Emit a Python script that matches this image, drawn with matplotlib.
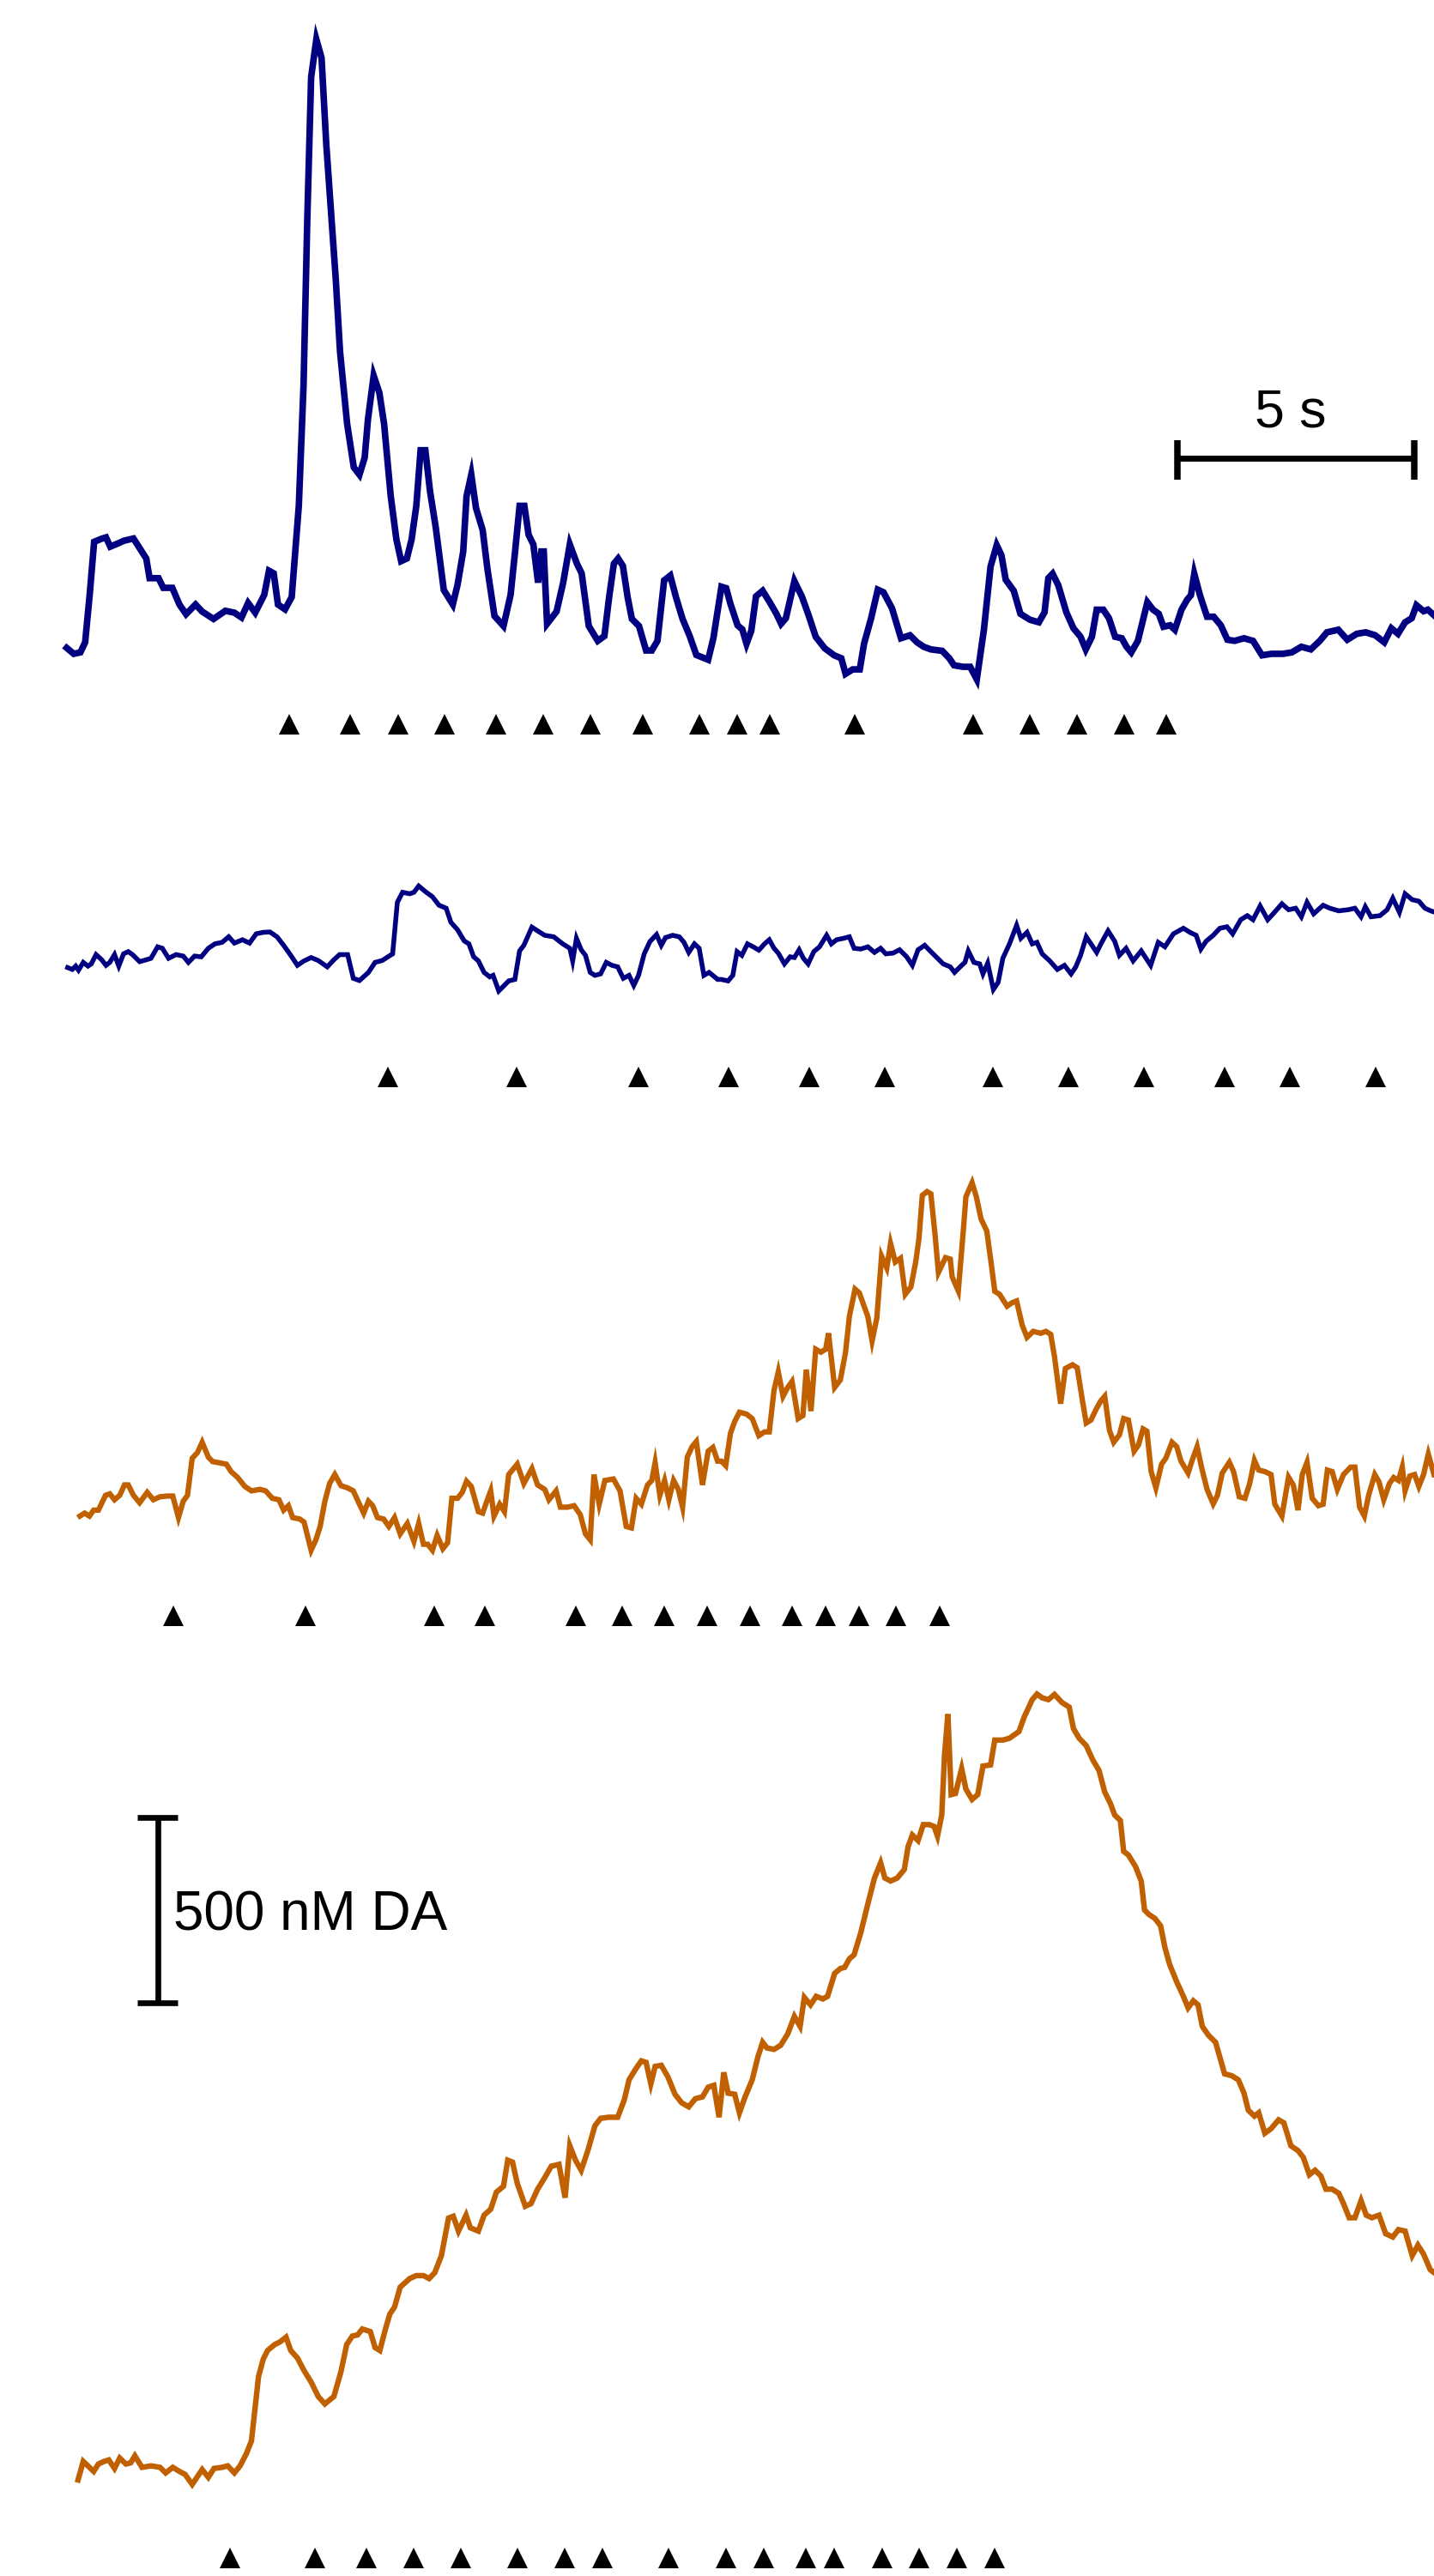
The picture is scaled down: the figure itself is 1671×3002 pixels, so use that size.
import matplotlib
matplotlib.use("Agg")
import matplotlib.pyplot as plt

plt.rcParams['font.family'] = ['Liberation Sans', 'DejaVu Sans']

# trace 1 (navy, top): time in s, DA in nM relative to start
t1 = [0.02, 0.17, 0.31, 0.41, 0.51, 0.60, 0.75, 0.85, 0.94, 1.09, 1.23, 1.43, 1.57, 1.70, 1.77, 1.96, 2.06, 2.25,
      2.40, 2.54, 2.74, 2.88, 3.12, 3.37, 3.56, 3.71, 3.85, 4.00, 4.19, 4.29, 4.39, 4.48, 4.63, 4.77, 4.92, 5.02,
      5.10, 5.18, 5.29, 5.40, 5.50, 5.60, 5.70, 5.79, 5.94, 6.08, 6.20, 6.31, 6.38, 6.50, 6.62, 6.72, 6.86, 6.98,
      7.08, 7.20, 7.30, 7.40, 7.49, 7.59, 7.69, 7.81, 7.98, 8.17, 8.27, 8.39, 8.46, 8.56, 8.66, 8.80, 8.90, 9.05,
      9.24, 9.39, 9.48, 9.58, 9.68, 9.77, 9.87, 9.97, 10.04, 10.09, 10.16, 10.36, 10.50, 10.64, 10.79, 10.89, 11.04,
      11.23, 11.37, 11.47, 11.57, 11.66, 11.76, 11.86, 11.95, 12.10, 12.25, 12.37, 12.49, 12.63, 12.76, 12.88, 13.02,
      13.17, 13.31, 13.56, 13.67, 13.84, 13.94, 14.03, 14.18, 14.28, 14.37, 14.47, 14.57, 14.71, 14.86, 15.00, 15.10,
      15.20, 15.38, 15.54, 15.68, 15.83, 16.02, 16.22, 16.37, 16.46, 16.61, 16.76, 16.85, 17.00, 17.14, 17.26, 17.44,
      17.63, 17.82, 17.97, 18.11, 18.26, 18.50, 18.65, 18.75, 18.94, 19.09, 19.23, 19.38, 19.52, 19.65, 19.75, 19.84,
      20.01, 20.15, 20.35, 20.54, 20.66, 20.74, 20.83, 20.95, 21.12, 21.27, 21.42, 21.53, 21.66, 21.76, 21.90, 22.02,
      22.15, 22.29, 22.39, 22.49, 22.63, 22.83, 22.95, 23.07, 23.17, 23.31, 23.41, 23.55, 23.67, 23.75, 23.82, 23.94,
      24.09, 24.23, 24.38, 24.52, 24.67, 24.87, 25.06, 25.25, 25.45, 25.69, 25.88, 26.08, 26.28, 26.47, 26.62, 26.86,
      27.05, 27.25, 27.44, 27.64, 27.83, 27.98, 28.12, 28.27, 28.41, 28.51, 28.66, 28.75, 28.88]
c1 = [3, -13, -9, 18, 152, 289, 297, 301, 276, 284, 292, 298, 270, 244, 191, 191, 165, 165,
      120, 94, 120, 101, 81, 103, 98, 85, 124, 98, 146, 211, 204, 120, 107, 140, 386, 711,
      1165, 1542, 1644, 1594, 1360, 1178, 997, 802, 607, 490, 470, 516, 620, 737, 691, 607, 412, 295,
      237, 244, 295, 386, 536, 536, 425, 328, 159, 120, 173, 263, 412, 470, 380, 321, 217, 89,
      62, 146, 257, 386, 386, 308, 282, 179, 263, 263, 68, 101, 179, 282, 230, 204, 62,
      22, 35, 140, 230, 244, 224, 140, 81, 62, -4, -4, 22, 185, 198, 140, 81,
      35, -16, -29, 29, 168, 164, 122, 64, 53, 14, 49, 142, 157, 126, 95, 68,
      83, 183, 141, 91, 33, 2, -17, -25, -67, -55, -55, 14, 83, 160, 153, 110,
      29, 37, 18, 6, -1, -5, -25, -44, -48, -48, -82, 52, 222, 280, 253, 187,
      157, 95, 79, 72, 99, 191, 203, 172, 99, 56, 33, -1, 33, 106, 106, 83,
      33, 29, 6, -9, 22, 126, 106, 95, 60, 64, 52, 106, 133, 145, 203, 145,
      87, 87, 64, 25, 22, 29, 22, -17, -13, -13, -9, 6, -1, 22, 45, 52,
      25, 41, 45, 37, 18, 56, 41, 72, 83, 118, 102, 106, 91]

# trace 2 (navy, second)
t2 = [0.04, 0.14, 0.21, 0.27, 0.37, 0.47, 0.54, 0.64, 0.76, 0.85, 0.93, 1.03, 1.12, 1.22, 1.32, 1.41, 1.56, 1.70,
      1.80, 1.94, 2.04, 2.17, 2.33, 2.48, 2.59, 2.72, 2.86, 3.01, 3.15, 3.30, 3.44, 3.56, 3.73, 3.88, 4.02, 4.17,
      4.31, 4.46, 4.60, 4.75, 4.89, 5.03, 5.18, 5.33, 5.52, 5.66, 5.78, 5.95, 6.07, 6.20, 6.39, 6.53, 6.68, 6.80,
      6.90, 7.00, 7.11, 7.26, 7.35, 7.45, 7.60, 7.74, 7.88, 8.03, 8.13, 8.27, 8.41, 8.51, 8.61, 8.71, 8.83, 8.95,
      9.02, 9.14, 9.24, 9.35, 9.48, 9.58, 9.67, 9.84, 9.96, 10.11, 10.30, 10.49, 10.64, 10.70, 10.78, 10.88, 10.97,
      11.07, 11.17, 11.29, 11.41, 11.53, 11.65, 11.77, 11.89, 11.99, 12.09, 12.21, 12.33, 12.47, 12.57, 12.66,
      12.81, 12.95, 13.05, 13.15, 13.27, 13.37, 13.47, 13.58, 13.76, 13.84, 13.98, 14.08, 14.17, 14.27, 14.39,
      14.51, 14.63, 14.75, 14.85, 14.95, 15.04, 15.17, 15.29, 15.38, 15.48, 15.57, 15.67, 15.79, 15.91, 16.06,
      16.16, 16.27, 16.42, 16.54, 16.64, 16.78, 16.93, 17.07, 17.20, 17.31, 17.46, 17.60, 17.75, 17.87, 17.99,
      18.13, 18.26, 18.37, 18.52, 18.67, 18.76, 18.91, 18.98, 19.05, 19.17, 19.29, 19.36, 19.46, 19.58, 19.68,
      19.78, 19.92, 20.07, 20.16, 20.29, 20.40, 20.50, 20.61, 20.77, 20.93, 21.08, 21.22, 21.32, 21.42, 21.54,
      21.76, 21.85, 22.00, 22.14, 22.24, 22.38, 22.53, 22.70, 22.90, 23.06, 23.20, 23.38, 23.59, 23.73, 23.86,
      23.96, 24.07, 24.22, 24.36, 24.51, 24.63, 24.80, 24.94, 25.06, 25.21, 25.37, 25.52, 25.67, 25.81, 25.96,
      26.08, 26.20, 26.34, 26.54, 26.68, 26.87, 27.07, 27.21, 27.34, 27.43, 27.55, 27.74, 27.89, 28.01, 28.15,
      28.27, 28.42, 28.56, 28.69, 28.81, 28.88]
c2 = [4, -1, 8, -3, 18, 8, 14, 39, 25, 10, 18, 39, 8, 41, 47, 39, 20, 25,
      29, 60, 56, 29, 39, 35, 18, 35, 33, 56, 68, 72, 87, 70, 79, 70, 95, 99,
      100, 87, 64, 37, 10, 22, 31, 23, 6, 25, 39, 39, -25, -31, -9, 18, 23, 33,
      41, 180, 207, 203, 207, 224, 208, 195, 172, 164, 126, 106, 76, 68, 33, 22, -9, -21,
      -17, -59, -46, -32, -28, 49, 64, 113, 103, 91, 87, 68, 56, 22, 83, 52, 37,
      -9, -17, -13, 18, 10, 6, -25, -17, -44, -17, 41, 74, 93, 64, 85,
      91, 87, 72, 45, 68, 56, -17, -9, -28, -28, -32, -17, 47, 37, 68,
      60, 51, 68, 79, 56, 43, 14, 33, 31, 52, 29, 14, 47, 60, 91,
      68, 79, 83, 87, 56, 54, 60, 45, 56, 41, 43, 52, 33, 10, 52,
      64, 47, 33, 14, 6, -9, 10, 18, 49, 18, 14, -13, 16, -55, -36,
      29, 68, 118, 83, 99, 68, 72, 41, 22, -1, 10, -13, 6, 37, 87,
      45, 68, 103, 75, 37, 56, 22, 49, 10, 72, 60, 95, 110, 99, 91,
      54, 75, 91, 110, 114, 95, 133, 144, 133, 170, 133, 154, 176, 160, 164,
      141, 180, 149, 172, 164, 157, 160, 164, 141, 168, 141, 144, 160, 191, 153,
      203, 187, 183, 164, 157, 154]

# trace 3 (orange, third)
t3 = [0.30, 0.40, 0.50, 0.59, 0.69, 0.84, 0.93, 1.03, 1.14, 1.24, 1.32, 1.43, 1.56, 1.72, 1.85, 1.99, 2.14, 2.26,
      2.38, 2.48, 2.57, 2.67, 2.78, 2.88, 3.01, 3.10, 3.23, 3.39, 3.49, 3.63, 3.78, 3.92, 4.10, 4.22, 4.36, 4.50,
      4.60, 4.70, 4.79, 4.94, 5.03, 5.18, 5.28, 5.37, 5.47, 5.57, 5.68, 5.81, 5.95, 6.07, 6.20, 6.29, 6.39, 6.48,
      6.58, 6.71, 6.82, 6.94, 7.06, 7.21, 7.35, 7.45, 7.55, 7.64, 7.74, 7.84, 7.96, 8.06, 8.15, 8.27, 8.37, 8.46,
      8.56, 8.71, 8.80, 8.90, 8.97, 9.04, 9.16, 9.26, 9.35, 9.53, 9.67, 9.84, 9.96, 10.11, 10.20, 10.35, 10.44,
      10.59, 10.73, 10.86, 10.97, 11.07, 11.15, 11.26, 11.38, 11.56, 11.70, 11.83, 11.94, 12.04, 12.15, 12.28,
      12.37, 12.44, 12.54, 12.64, 12.73, 12.83, 12.93, 13.02, 13.12, 13.22, 13.31, 13.44, 13.56, 13.66, 13.76,
      13.84, 13.93, 14.03, 14.12, 14.22, 14.37, 14.49, 14.63, 14.75, 14.85, 14.95, 15.04, 15.14, 15.24, 15.33,
      15.46, 15.56, 15.63, 15.73, 15.83, 15.94, 16.04, 16.10, 16.23, 16.35, 16.46, 16.54, 16.66, 16.75, 16.93,
      17.02, 17.12, 17.22, 17.33, 17.41, 17.51, 17.62, 17.72, 17.84, 17.94, 18.01, 18.08, 18.18, 18.26, 18.35,
      18.42, 18.57, 18.67, 18.71, 18.84, 18.95, 19.00, 19.13, 19.22, 19.32, 19.44, 19.53, 19.61, 19.71, 19.87,
      19.97, 20.07, 20.19, 20.29, 20.42, 20.58, 20.69, 20.79, 20.87, 21.00, 21.10, 21.25, 21.35, 21.46, 21.54,
      21.64, 21.76, 21.85, 21.93, 22.03, 22.12, 22.24, 22.33, 22.43, 22.55, 22.64, 22.74, 22.82, 22.91, 23.01,
      23.13, 23.22, 23.35, 23.45, 23.54, 23.69, 23.78, 23.88, 23.98, 24.09, 24.22, 24.31, 24.41, 24.56, 24.65,
      24.77, 24.89, 24.99, 25.09, 25.18, 25.31, 25.44, 25.52, 25.67, 25.81, 25.91, 26.01, 26.10, 26.20, 26.31,
      26.44, 26.54, 26.63, 26.73, 26.84, 26.97, 27.12, 27.21, 27.31, 27.41, 27.50, 27.63, 27.72, 27.82, 27.94,
      28.03, 28.13, 28.21, 28.27, 28.37, 28.47, 28.56, 28.66, 28.76, 28.88]
c3 = [-4, 4, -4, 12, 12, 52, 56, 40, 52, 80, 80, 52, 32, 60, 40, 48, 50, 50,
      -8, 36, 52, 152, 167, 195, 155, 143, 140, 136, 116, 100, 76, 64, 68, 64, 44, 40,
      12, 24, -8, -12, -20, -96, -68, -32, 36, 84, 108, 78, 72, 64, 28, 4, 36, 24,
      -8, -12, -32, -8, -52, -24, -72, -24, -80, -80, -96, -56, -92, -76, 44, 44, 60, 90,
      76, 8, 4, 40, 64, -4, 28, 8, 108, 136, 84, 124, 80, 68, 40, 64, 20,
      20, 24, 0, -52, -68, 108, 28, 92, 96, 64, -32, -36, 44, 28, 80,
      92, 140, 52, 92, 40, 92, 68, 20, 155, 183, 197, 80, 171, 181, 144,
      144, 132, 219, 251, 276, 271, 259, 213, 223, 223, 335, 385, 319, 343, 359,
      259, 267, 391, 279, 446, 438, 446, 489, 343, 363, 438, 534, 608, 598, 534,
      468, 530, 697, 665, 731, 681, 691, 594, 614, 681, 745, 861, 871, 865, 753,
      653, 693, 689, 641, 603, 773, 857, 895, 857, 797, 765, 681, 602, 594, 562,
      571, 576, 510, 478, 494, 489, 494, 486, 426, 299, 394, 404, 396, 307, 247,
      255, 287, 307, 319, 227, 195, 215, 259, 255, 171, 187, 231, 225, 116, 72,
      136, 152, 195, 183, 144, 112, 148, 183, 124, 68, 29, 52, 112, 141, 116,
      48, 44, 84, 146, 120, 116, 108, 28, -4, 101, 80, 12, 108, 141, 44,
      24, 28, 120, 116, 68, 108, 128, 128, 20, -4, 52, 108, 88, 40, 84,
      100, 92, 128, 64, 104, 108, 76, 108, 163, 108]

# trace 4 (orange, bottom)
t4 = [0.26, 0.37, 0.50, 0.59, 0.69, 0.81, 0.91, 1.03, 1.14, 1.27, 1.37, 1.46, 1.61, 1.80, 1.99, 2.11, 2.26, 2.40,
      2.52, 2.67, 2.77, 2.88, 3.01, 3.13, 3.30, 3.42, 3.56, 3.68, 3.81, 3.92, 3.99, 4.07, 4.17, 4.26, 4.41, 4.52,
      4.65, 4.75, 4.89, 5.03, 5.18, 5.33, 5.47, 5.66, 5.81, 5.93, 6.05, 6.16, 6.26, 6.43, 6.53, 6.63, 6.74, 6.84,
      6.94, 7.06, 7.26, 7.40, 7.55, 7.67, 7.79, 7.93, 8.08, 8.18, 8.29, 8.45, 8.54, 8.71, 8.83, 8.97, 9.09, 9.24,
      9.33, 9.43, 9.53, 9.70, 9.82, 9.96, 10.11, 10.25, 10.41, 10.54, 10.64, 10.76, 10.88, 11.02, 11.17, 11.29,
      11.46, 11.65, 11.79, 11.89, 12.04, 12.15, 12.25, 12.35, 12.44, 12.57, 12.71, 12.86, 13.00, 13.15, 13.29,
      13.44, 13.56, 13.68, 13.79, 13.89, 13.98, 14.12, 14.22, 14.34, 14.49, 14.61, 14.71, 14.80, 14.95, 15.09,
      15.24, 15.38, 15.50, 15.59, 15.72, 15.84, 15.98, 16.08, 16.23, 16.35, 16.44, 16.54, 16.64, 16.78, 16.93,
      17.07, 17.20, 17.29, 17.41, 17.55, 17.70, 17.78, 17.87, 17.99, 18.10, 18.23, 18.33, 18.40, 18.49, 18.55,
      18.62, 18.69, 18.78, 18.91, 19.00, 19.13, 19.25, 19.36, 19.52, 19.61, 19.78, 19.92, 20.12, 20.23, 20.40,
      20.50, 20.61, 20.74, 20.87, 21.03, 21.18, 21.27, 21.39, 21.54, 21.68, 21.81, 21.93, 22.05, 22.14, 22.26,
      22.33, 22.43, 22.58, 22.70, 22.77, 22.86, 22.99, 23.11, 23.20, 23.30, 23.45, 23.59, 23.69, 23.80, 23.90,
      23.99, 24.12, 24.27, 24.46, 24.61, 24.75, 24.87, 24.96, 25.09, 25.18, 25.31, 25.44, 25.60, 25.71, 25.86,
      26.01, 26.12, 26.25, 26.37, 26.49, 26.60, 26.73, 26.87, 26.97, 27.09, 27.21, 27.34, 27.45, 27.57, 27.72,
      27.86, 28.01, 28.13, 28.27, 28.42, 28.54, 28.66, 28.80, 28.88]
c4 = [-42, 8, -8, -19, 1, 8, 12, -11, 17, 1, 4, 23, -8, -4, -8, -23, -8, -19,
      -27, -54, -35, -14, -35, -11, -8, -4, -23, -4, 28, 63, 144, 237, 284, 307, 323, 330,
      343, 307, 287, 253, 222, 183, 163, 183, 250, 323, 346, 349, 365, 358, 315, 307, 361, 405,
      424, 478, 501, 509, 509, 501, 517, 563, 664, 669, 629, 672, 638, 629, 672, 688, 734, 750,
      820, 815, 758, 696, 703, 742, 773, 804, 809, 719, 859, 820, 793, 846, 913, 933,
      936, 936, 983, 1037, 1068, 1088, 1084, 1026, 1073, 1076, 1045, 998, 975, 964, 986,
      991, 1017, 1022, 936, 1057, 1001, 998, 948, 991, 1037, 1099, 1138, 1123, 1119, 1130,
      1161, 1208, 1181, 1259, 1239, 1262, 1255, 1262, 1324, 1337, 1340, 1363, 1374, 1433, 1511,
      1581, 1622, 1581, 1573, 1581, 1604, 1666, 1697, 1682, 1725, 1725, 1720, 1694, 1751, 1914,
      2023, 1806, 1809, 1876, 1821, 1793, 1806, 1883, 1886, 1953, 1953, 1958, 1976, 2015, 2062,
      2077, 2067, 2062, 2076, 2054, 2042, 1984, 1958, 1938, 1899, 1871, 1813, 1782, 1751, 1736,
      1653, 1643, 1612, 1573, 1495, 1483, 1472, 1452, 1394, 1348, 1301, 1262, 1231, 1250, 1239,
      1181, 1157, 1138, 1053, 1048, 1037, 1001, 955, 939, 948, 893, 905, 929, 921, 859,
      846, 828, 781, 793, 778, 742, 742, 731, 703, 665, 665, 711, 672, 665, 672,
      622, 613, 633, 629, 563, 591, 567, 525, 517]

# stimulus times (s) under each trace
stim1 = [4.71, 6.01, 7.01, 7.99, 9.08, 10.08, 11.08, 12.18, 13.37, 14.18, 14.86, 16.66, 19.16, 20.35, 21.35,
         22.34, 23.23]
stim2 = [6.80, 9.51, 12.09, 14.00, 15.69, 17.28, 19.57, 21.17, 22.76, 24.46, 25.84, 27.65]
stim3 = [2.28, 5.07, 7.77, 8.85, 10.76, 11.75, 12.64, 13.54, 14.44, 15.33, 16.03, 16.74, 17.53, 18.44]
stim4 = [3.46, 5.26, 6.34, 7.34, 8.34, 9.53, 10.53, 11.32, 12.73, 13.93, 14.73, 15.62, 16.22, 17.23, 18.01,
         18.81, 19.60]

navy = '#000080'
orange = '#c06000'

traces = [(t1, c1, navy, 5.5), (t2, c2, navy, 4.0), (t3, c3, orange, 4.5), (t4, c4, orange, 4.6)]
stims = [stim1, stim2, stim3, stim4]
offsets = [5196, 4333, 2862, 301]
stim_rows = [4993, 4043, 2589, 49]


def show():
    fig = plt.figure(figsize=(16.71, 30.02), dpi=100)
    ax = fig.add_axes([0, 0, 1, 1])
    ax.set_xlim(-1.387, 28.88)
    ax.set_ylim(0, 6946)
    ax.axis('off')

    for (t, c, col, lw), off in zip(traces, offsets):
        ax.plot(t, [v + off for v in c], '-', color=col, lw=lw, solid_joinstyle='miter')

    for s, row in zip(stims, stim_rows):
        ax.plot(s, [row] * len(s), '^', color='black', ms=17.5, mew=0)

    # 5 s time bar
    ax.plot([23.47, 28.47], [5710, 5710], color='black', lw=5, solid_capstyle='butt')
    for x in (23.47, 28.47):
        ax.plot([x, x], [5652, 5758], color='black', lw=5.4, solid_capstyle='butt')
    ax.text(25.85, 5794, '5 s', fontsize=45, ha='center', va='baseline')

    # 500 nM bar
    ax.plot([1.945, 1.945], [1546.5, 2046.5], color='black', lw=4.8, solid_capstyle='butt')
    for y in (1546.5, 2046.5):
        ax.plot([1.51, 2.36], [y, y], color='black', lw=4.8, solid_capstyle='butt')
    ax.text(2.27, 1742, '500 nM DA', fontsize=46, ha='left', va='baseline')

    fig.savefig('out.png', dpi=100)


show()
